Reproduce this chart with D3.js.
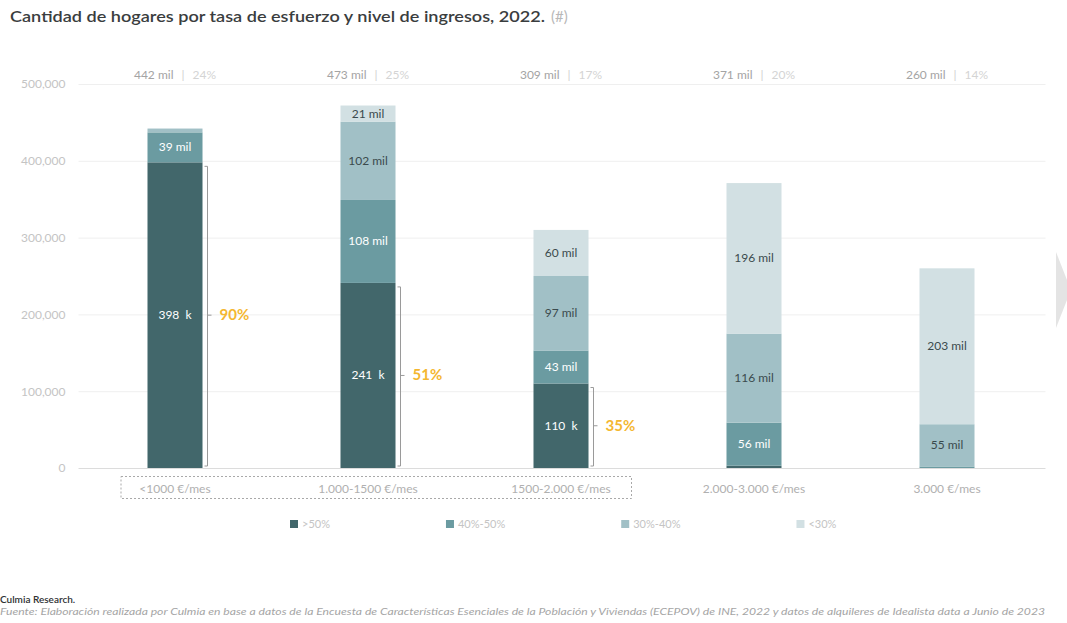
<!DOCTYPE html>
<html>
<head>
<meta charset="utf-8">
<script src="https://cdn.jsdelivr.net/npm/d3@7"></script>
<style>
  html, body { margin: 0; padding: 0; background: #fff; }
  svg { display: block; }
  text { font-family: "Lato", "Noto Sans", sans-serif; }
</style>
</head>
<body>
<svg id="chart" width="1067" height="623"></svg>
<script>
// ---------- DATA ----------
const categories = ["<1000 €/mes", "1.000-1500 €/mes", "1500-2.000 €/mes", "2.000-3.000 €/mes", "3.000 €/mes"];
const seriesNames = [">50%", "40%-50%", "30%-40%", "<30%"];
const over50   = [398, 241, 110, 3, 0];     // miles de hogares
const s40to50  = [39, 108, 43, 56, 2];
const s30to40  = [5, 102, 97, 116, 55];
const under30  = [0, 21, 60, 196, 203];
const totalLabels = ["442 mil", "473 mil", "309 mil", "371 mil", "260 mil"];
const shareLabels = ["24%", "25%", "17%", "20%", "14%"];
const bracketLabels = ["90%", "51%", "35%"];
const yTicks = [0, 100000, 200000, 300000, 400000, 500000];

const colors = ["#42676b", "#6b9ba1", "#a1c0c6", "#d2e0e3"];
const labelColors = ["#ffffff", "#ffffff", "#3b4a4d", "#3b4a4d"];

// ---------- SETUP ----------
const svg = d3.select("#chart");
const margin = { left: 78.5, right: 1043.5, top: 84, bottom: 468 };

const x = d3.scaleBand().domain(categories).range([margin.left, margin.right]).paddingInner(0).paddingOuter(0);
const barW = x.bandwidth() * 0.285;
const y = d3.scaleLinear().domain([0, 500000]).range([margin.bottom, margin.top]);

const seriesArrays = [over50, s40to50, s30to40, under30];
const rows = categories.map((c, i) => {
  const r = { cat: c };
  seriesNames.forEach((s, j) => r[s] = seriesArrays[j][i] * 1000);
  return r;
});
const stacked = d3.stack().keys(seriesNames)(rows);

// ---------- TITLE ----------
const title = svg.append("text").attr("x", 10).attr("y", 22)
  .style("font-size", "16px").style("font-weight", 600).attr("fill", "#3a3d3e");
const tMain = title.append("tspan").text("Cantidad de hogares por tasa de esfuerzo y nivel de ingresos, 2022.");
tMain.attr("textLength", 535).attr("lengthAdjust", "spacingAndGlyphs");
svg.append("text").attr("x", 551).attr("y", 22).attr("fill", "#b8b8b8")
  .style("font-size", "15px").text("(#)");

// ---------- GRID + Y AXIS ----------
const yAxis = svg.append("g").attr("transform", `translate(${margin.left},0)`)
  .call(d3.axisLeft(y).tickValues(yTicks).tickSize(-(margin.right - margin.left + 2)).tickFormat(d3.format(",")));
yAxis.select(".domain").remove();
yAxis.selectAll(".tick line").attr("stroke", "#efefef").attr("stroke-width", 1);
yAxis.selectAll(".tick").filter(d => d === 0).select("line").attr("stroke", "#dcdcdc");
yAxis.selectAll(".tick text").attr("x", -13).attr("fill", "#c4c4c4")
  .style("font-size", "12px").style("font-family", "Lato, sans-serif");

// ---------- BARS ----------
const layers = svg.append("g").selectAll("g").data(stacked).join("g")
  .attr("fill", (d, i) => colors[i]);
layers.selectAll("rect").data(d => d).join("rect")
  .attr("x", d => x(d.data.cat) + (x.bandwidth() - barW) / 2)
  .attr("width", barW)
  .attr("y", d => y(d[1]))
  .attr("height", d => Math.max(0, y(d[0]) - y(d[1])));

// segment labels
stacked.forEach((layer, j) => {
  svg.append("g").selectAll("text").data(layer.filter(d => (d[1] - d[0]) >= 15000)).join("text")
    .attr("x", d => x(d.data.cat) + x.bandwidth() / 2)
    .attr("y", d => (y(d[0]) + y(d[1])) / 2 + 4)
    .attr("text-anchor", "middle")
    .attr("fill", labelColors[j])
    .style("font-size", "12px")
    .text(d => {
      const v = Math.round((d[1] - d[0]) / 1000);
      return j === 0 ? v + "\u00A0 k" : v + " mil";
    });
});

// ---------- TOTALS ON TOP ----------
const tops = svg.append("g").selectAll("text").data(categories).join("text")
  .attr("x", d => x(d) + x.bandwidth() / 2)
  .attr("y", 79)
  .attr("text-anchor", "middle")
  .style("font-size", "12px");
tops.append("tspan").attr("fill", "#a4a4a4").text((d, i) => totalLabels[i]);
tops.append("tspan").attr("fill", "#d0d0d0").attr("dx", 8).text("|");
tops.append("tspan").attr("fill", "#d4d4d4").attr("dx", 8).text((d, i) => shareLabels[i]);

// ---------- BRACKETS ----------
bracketLabels.forEach((lab, i) => {
  const c = categories[i];
  const bx = x(c) + (x.bandwidth() + barW) / 2 + 5;
  const seg = stacked[0][i];
  const y0 = y(seg[0]) - 2, y1 = y(seg[1]) + 4;
  const ym = (y(seg[0]) + y(seg[1])) / 2;
  svg.append("path")
    .attr("d", `M${bx - 3},${y1} H${bx} V${y0} H${bx - 3} M${bx},${ym} H${bx + 4}`)
    .attr("fill", "none").attr("stroke", "#9a9a9a").attr("stroke-width", 1);
  svg.append("text").attr("x", bx + 12).attr("y", ym + 5)
    .attr("fill", "#f4b731").style("font-size", "15px").style("font-weight", 700).text(lab);
});

// ---------- X LABELS ----------
svg.append("g").selectAll("text").data(categories).join("text")
  .attr("x", d => x(d) + x.bandwidth() / 2)
  .attr("y", 493)
  .attr("text-anchor", "middle")
  .attr("fill", "#b0b0b0")
  .style("font-size", "12px")
  .text(d => d);

// dashed box around first three categories
const boxL = x(categories[0]) + 42.5, boxR = x(categories[2]) + x.bandwidth() - 26;
svg.append("rect")
  .attr("x", boxL).attr("y", 476.5)
  .attr("width", boxR - boxL)
  .attr("height", 22)
  .attr("fill", "none").attr("stroke", "#a9a9a9").attr("stroke-dasharray", "2,2").attr("stroke-width", 1);

// ---------- LEGEND ----------
const legend = svg.append("g");
let lx = 290;
seriesNames.forEach((s, i) => {
  const g = legend.append("g").attr("transform", `translate(${lx},0)`);
  g.append("rect").attr("x", 0).attr("y", 520).attr("width", 8).attr("height", 8).attr("fill", colors[i]);
  const t = g.append("text").attr("x", 12).attr("y", 528).attr("fill", "#c4c4c4")
    .style("font-size", "11px").text(s);
  lx += 12 + t.node().getComputedTextLength() + 116;
});

// ---------- FOOTER ----------
svg.append("text").attr("x", 0).attr("y", 603).attr("fill", "#2f3233")
  .style("font-size", "10px").style("font-weight", 600).text("Culmia Research.");
svg.append("text").attr("x", 0).attr("y", 615).attr("fill", "#a5a5a5")
  .style("font-size", "9.5px").style("font-style", "italic")
  .attr("textLength", 1045).attr("lengthAdjust", "spacingAndGlyphs")
  .text("Fuente: Elaboración realizada por Culmia en base a datos de la Encuesta de Características Esenciales de la Población y Viviendas (ECEPOV) de INE, 2022 y datos de alquileres de Idealista data a Junio de 2023");

// ---------- decorative nav arrow on right edge ----------
svg.append("path").attr("d", "M1056,252 L1067,280 L1067,300 L1056,328 Z").attr("fill", "#e4e4e4");
</script>
</body>
</html>
